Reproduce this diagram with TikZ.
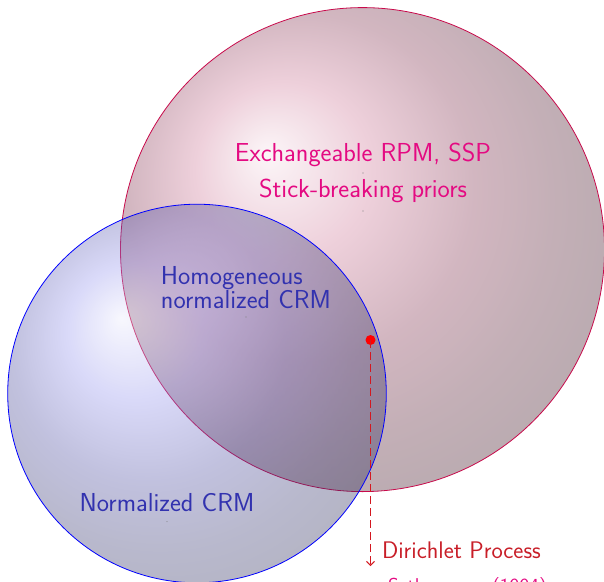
\documentclass[tikz,border=0pt]{standalone}
\usepackage{tikz}
\usetikzlibrary{positioning,arrows.meta}

\definecolor{rpmPink}{RGB}{228,10,130}
\definecolor{rpmEdge}{RGB}{200,10,75}
\definecolor{rpmBall}{RGB}{195,90,128}
\definecolor{crmBlue}{RGB}{50,50,175}
\definecolor{crmBall}{RGB}{110,110,230}
\definecolor{dpRed}{RGB}{200,30,40}

\begin{document}
\begin{tikzpicture}[x=0.75pt,y=0.75pt,yscale=-1,xscale=1,
  every node/.style={font=\sffamily\fontsize{19.5}{23}\selectfont},
  dotmark/.style={circle,fill=gray,inner sep=0pt,minimum size=0.8pt},
  pinklbl/.style={text=rpmPink,inner sep=1pt},
  bluelbl/.style={text=crmBlue,inner sep=1pt,align=left,font=\sffamily\fontsize{19.5}{18}\selectfont},
  redlbl/.style={text=dpRed,inner sep=1pt,font=\sffamily\fontsize{18}{21}\selectfont}]
\useasboundingbox (0,0) rectangle (604,582);

%Shape: Circle [id:rpm] 
\draw [color=rpmEdge, line width=0.6, ball color=rpmBall, fill opacity=0.38] (362.5,249.6) circle [radius=242];
%Shape: Circle [id:crm] 
\draw [color=blue, line width=0.6, ball color=crmBall, fill opacity=0.35] (197,393.5) circle [radius=189.3];

% Label points
\node [dotmark] (exdot) at (363,173) {};
\node [dotmark] (sbdot) at (363,211) {};
\node [dotmark] (hndot) at (246,317) {};
\node [dotmark] (ncdot) at (167,521.7) {};

% Text Node
\node [pinklbl, above=2.75pt of exdot] (exlbl) {Exchangeable RPM, SSP};
% Text Node
\node [pinklbl, above=4.25pt of sbdot] (sblbl) {Stick-breaking priors};
% Text Node
\node [bluelbl, above=4.5pt of hndot] (hnlbl) {Homogeneous\\normalized CRM};
% Text Node
\node [bluelbl, above=5.5pt of ncdot] (nclbl) {Normalized CRM};

%Dirichlet process point
\node [circle, fill=red, inner sep=0pt, minimum size=7.5pt] (dpdot) at (370.5,340) {};
\coordinate (dpend) at (370.5,566);
\draw [color=dpRed!80!red, line width=0.75, dash pattern={on 6pt off 3pt}, -{Straight Barb[length=3pt,width=6pt]}] (dpdot.center) -- (dpend);

% Text Node
\node [redlbl, anchor=base west] (dplbl) at ([xshift=7.5pt,yshift=-6pt]dpend) {Dirichlet Process};
% Text Node
\node [pinklbl, anchor=base west, font=\sffamily\fontsize{15}{18}\selectfont] (sethlbl) at ([xshift=12pt,yshift=19.5pt]dpend) {Sethuraman (1994)};

\end{tikzpicture}
\end{document}
